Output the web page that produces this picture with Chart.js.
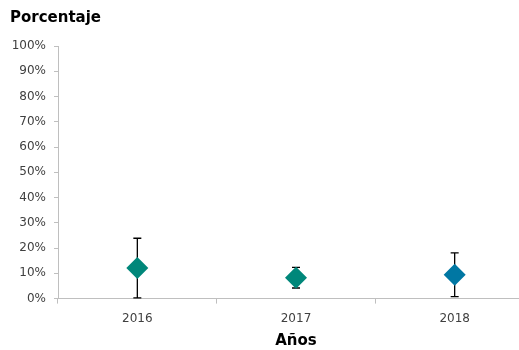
<!DOCTYPE html>
<html>
<head>
<meta charset="utf-8">
<script src="https://cdn.jsdelivr.net/npm/chart.js@4.4.0/dist/chart.umd.min.js"></script>
<style>
  html, body { margin: 0; padding: 0; background: #fff; overflow: hidden; }
  #wrap { width: 545px; height: 350px; }
</style>
</head>
<body>
<div id="wrap"><canvas id="myChart"></canvas></div>
<script>
var years = ['2016', '2017', '2018']
var values = [12.1, 8.3, 9.4]
var errLow = [0.3, 4.2, 0.8]
var errHigh = [23.9, 12.4, 18.1]
var pointColors = ['#00877a', '#00877a', '#0077a3']
var yTicks = [0, 10, 20, 30, 40, 50, 60, 70, 80, 90, 100]

// whiskers drawn under the points, using the chart scales
const errorBars = {
  id: 'errorBars',
  beforeDatasetsDraw(chart) {
    const x = chart.scales.x, y = chart.scales.y, c = chart.ctx
    c.save()
    c.strokeStyle = '#000'
    c.lineWidth = 1.3
    years.forEach((yr, i) => {
      let px = x.getPixelForValue(i)
      let top = y.getPixelForValue(errHigh[i])
      let bot = y.getPixelForValue(errLow[i])
      c.beginPath()
      c.moveTo(px, top); c.lineTo(px, bot)
      c.moveTo(px - 4, top); c.lineTo(px + 4, top)
      c.moveTo(px - 4, bot); c.lineTo(px + 4, bot)
      c.stroke()
    })
    c.restore()
  }
}

// axis caption in the top left corner
const yCaption = {
  id: 'yCaption',
  afterDraw(chart) {
    const c = chart.ctx
    c.save()
    c.font = 'bold 15px "DejaVu Sans"'
    c.fillStyle = '#000'
    c.textBaseline = 'middle'
    c.fillText('Porcentaje', 10, 18)
    c.restore()
  }
}

const ctx = document.getElementById('myChart')
new Chart(ctx, {
  type: 'line',
  data: {
    labels: years,
    datasets: [{
      data: values,
      showLine: false,
      pointStyle: 'rectRot',
      pointRadius: 11,
      pointHoverRadius: 11,
      pointBackgroundColor: pointColors,
      pointBorderColor: pointColors,
      pointBorderWidth: 0
    }]
  },
  options: {
    responsive: true,
    maintainAspectRatio: false,
    animation: false,
    layout: { padding: { top: 46, left: 0, right: 0, bottom: 0 } },
    plugins: {
      legend: { display: false },
      tooltip: { enabled: false }
    },
    scales: {
      x: {
        offset: true,
        afterFit: (s) => { s.height -= 4 },
        grid: { display: true, offset: true, drawOnChartArea: false, tickLength: 5, color: '#bfbfbf' },
        border: { display: true, color: '#bfbfbf' },
        ticks: { color: '#404040', font: { family: '"DejaVu Sans"', size: 12 }, padding: 8 },
        title: { display: true, text: 'Años', color: '#000', font: { family: '"DejaVu Sans"', size: 15, weight: 'bold' }, padding: { top: 2, bottom: 0 } }
      },
      y: {
        min: 0,
        max: 100,
        afterBuildTicks: (s) => { s.ticks = yTicks.map(v => ({ value: v })) },
        afterFit: (s) => { s.width = 58 },
        grid: { display: true, drawOnChartArea: false, tickLength: 4, color: '#bfbfbf' },
        border: { display: true, color: '#bfbfbf' },
        ticks: { color: '#404040', font: { family: '"DejaVu Sans"', size: 12 }, padding: 8, callback: (v) => v + '%' }
      }
    }
  },
  plugins: [errorBars, yCaption]
});
</script>
</body>
</html>
